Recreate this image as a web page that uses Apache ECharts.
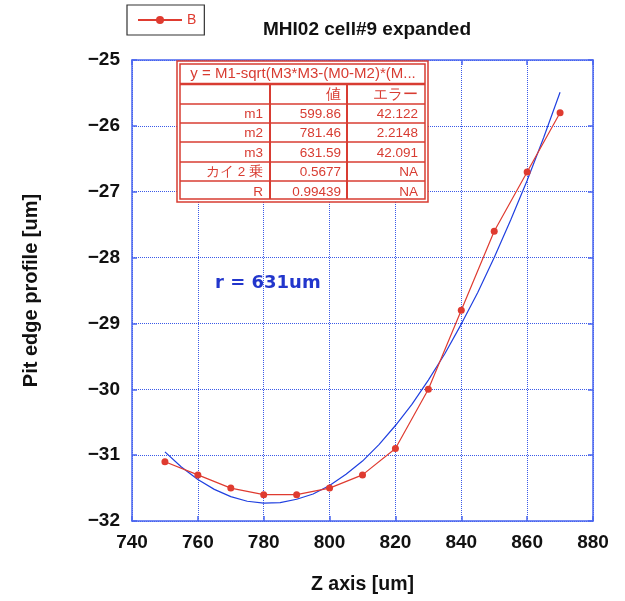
<!DOCTYPE html>
<html><head><meta charset="utf-8">
<script src="https://cdn.jsdelivr.net/npm/echarts@6/dist/echarts.min.js"></script>
<style>html,body{margin:0;padding:0;background:#fff}#c{width:625px;height:601px}</style>
</head><body><div id="c"></div>
<script>
// measured data (series B)
const zData = [750, 760, 770, 780, 790, 800, 810, 820, 830, 840, 850, 860, 870];
const bData = [-31.1, -31.3, -31.5, -31.6, -31.6, -31.5, -31.3, -30.9, -30.0, -28.8, -27.6, -26.7, -25.8];
// fitted curve values
const fitZ = [750, 755, 760, 765, 770, 775, 780, 785, 790, 795, 800, 805, 810, 815, 820, 825, 830, 835, 840, 845, 850, 855, 860, 865, 870];
const fitY = [-30.95, -31.18, -31.37, -31.52, -31.63, -31.70, -31.73, -31.72, -31.67, -31.59, -31.46, -31.29, -31.09, -30.84, -30.55, -30.23, -29.86, -29.46, -29.01, -28.53, -28.00, -27.43, -26.83, -26.18, -25.49];
// table of fit results
const tableFormula = 'y = M1-sqrt(M3*M3-(M0-M2)*(M...';
const tableHead = ['', '値', 'エラー'];
const tableNames = ['m1', 'm2', 'm3', 'カイ 2 乗', 'R'];
const tableValues = ['599.86', '781.46', '631.59', '0.5677', '0.99439'];
const tableErrors = ['42.122', '2.2148', '42.091', 'NA', 'NA'];
const xTicks = {min: 740, max: 880, interval: 20};
const yTicks = {min: -32, max: -25, interval: 1};

const chart = echarts.init(document.getElementById('c'), null, {renderer: 'canvas'});
const FONT = '"Liberation Sans", Arial, Helvetica, sans-serif';
const AX = '#4a66f0';
const GRID = '#3a5ae8';
const RED = '#df3b30';
const TRED = '#d83c32';

// table graphic
const tx0 = 177, tx1 = 428, ty0 = 61, ty1 = 202;
const rowY = [61, 84, 104, 123, 142, 162, 181, 202];
const colX = [177, 270, 347, 428];
const g = [];
g.push({type: 'rect', shape: {x: tx0, y: ty0, width: tx1 - tx0, height: ty1 - ty0}, style: {fill: '#fff', stroke: TRED, lineWidth: 1.5}, z: 10});
g.push({type: 'rect', shape: {x: tx0 + 3, y: ty0 + 3, width: tx1 - tx0 - 6, height: ty1 - ty0 - 6}, style: {fill: 'none', stroke: TRED, lineWidth: 1.5}, z: 10});
for (let i = 1; i < rowY.length - 1; i++) {
  g.push({type: 'line', shape: {x1: tx0 + 3, y1: rowY[i], x2: tx1 - 3, y2: rowY[i]}, style: {stroke: TRED, lineWidth: i === 1 ? 2.5 : 1.5}, z: 10});
}
[colX[1], colX[2]].forEach(x => g.push({type: 'line', shape: {x1: x, y1: rowY[1], x2: x, y2: ty1 - 3}, style: {stroke: TRED, lineWidth: 2}, z: 10}));
const tf = {fill: TRED, font: '14px ' + FONT, verticalAlign: 'middle'};
g.push({type: 'text', x: 303, y: (rowY[0] + rowY[1]) / 2 + 1, style: Object.assign({}, tf, {text: tableFormula, align: 'center', font: '15px ' + FONT}), z: 11});
const rights = [263, 341, 418];
const rows = [tableHead].concat(tableNames.map((n, i) => [n, tableValues[i], tableErrors[i]]));
rows.forEach((r, ri) => {
  const cy = (rowY[ri + 1] + rowY[ri + 2]) / 2 + 1;
  r.forEach((t, ci) => {
    if (!t) return;
    g.push({type: 'text', x: rights[ci], y: cy, style: Object.assign({}, tf, {text: t, align: 'right', font: (ri === 0 ? '15px ' : '13.5px ') + FONT}), z: 11});
  });
});
g.push({type: 'text', x: 215, y: 283, style: {text: 'r = 631um', fill: '#2236cc', font: 'bold 18px "DejaVu Sans", sans-serif', verticalAlign: 'middle'}, z: 11});

const fmt = v => String(v).replace('-', '\u2212');
const axisCommon = {
  axisLine: {show: true, lineStyle: {color: AX, width: 1.5}},
  axisTick: {show: true, inside: true, length: 5, lineStyle: {color: AX, width: 1.5}},
};

chart.setOption({
  animation: false,
  backgroundColor: '#fff',
  title: {text: 'MHI02 cell#9 expanded', left: 362, top: 15, textAlign: 'center',
    textStyle: {fontFamily: FONT, fontWeight: 'bold', fontSize: 19, color: '#111'}},
  legend: {data: ['B'], left: 127, top: 5, orient: 'horizontal', itemWidth: 44, itemHeight: 10, itemGap: 4,
    padding: [8, 8, 8, 10], borderColor: '#333', borderWidth: 1.2,
    textStyle: {color: RED, fontFamily: FONT, fontSize: 14}},
  grid: {left: 132, right: 32, top: 60, bottom: 80, containLabel: false},
  xAxis: [
    Object.assign({type: 'value', position: 'bottom', min: xTicks.min, max: xTicks.max, interval: xTicks.interval,
      name: 'Z axis [um]', nameLocation: 'middle', nameGap: 54,
      nameTextStyle: {fontFamily: FONT, fontWeight: 'bold', fontSize: 19.5, color: '#111'},
      axisLabel: {margin: 12, fontFamily: FONT, fontWeight: 'bold', fontSize: 19, color: '#111', formatter: fmt},
      splitLine: {show: true, lineStyle: {color: GRID, type: 'dotted', width: 1}}}, axisCommon),
    Object.assign({type: 'value', position: 'top', min: xTicks.min, max: xTicks.max, interval: xTicks.interval,
      axisLabel: {show: false}, splitLine: {show: false}}, axisCommon)
  ],
  yAxis: [
    Object.assign({type: 'value', position: 'left', min: yTicks.min, max: yTicks.max, interval: yTicks.interval,
      name: 'Pit edge profile [um]', nameLocation: 'middle', nameGap: 91, nameRotate: 90,
      nameTextStyle: {fontFamily: FONT, fontWeight: 'bold', fontSize: 20, color: '#111'},
      axisLabel: {margin: 12, fontFamily: FONT, fontWeight: 'bold', fontSize: 19, color: '#111', formatter: fmt},
      splitLine: {show: true, lineStyle: {color: GRID, type: 'dotted', width: 1}}}, axisCommon),
    Object.assign({type: 'value', position: 'right', min: yTicks.min, max: yTicks.max, interval: yTicks.interval,
      axisLabel: {show: false}, splitLine: {show: false}}, axisCommon)
  ],
  series: [
    {name: 'fit', type: 'line', data: fitZ.map((z, i) => [z, fitY[i]]), showSymbol: false, symbol: 'none',
      lineStyle: {color: '#2040e0', width: 1.2}, itemStyle: {color: '#2040e0'}, z: 3},
    {name: 'B', type: 'line', data: zData.map((z, i) => [z, bData[i]]), symbol: 'circle', symbolSize: 7,
      lineStyle: {color: RED, width: 1.2}, itemStyle: {color: RED}, z: 4}
  ],
  graphic: g
});
</script></body></html>
